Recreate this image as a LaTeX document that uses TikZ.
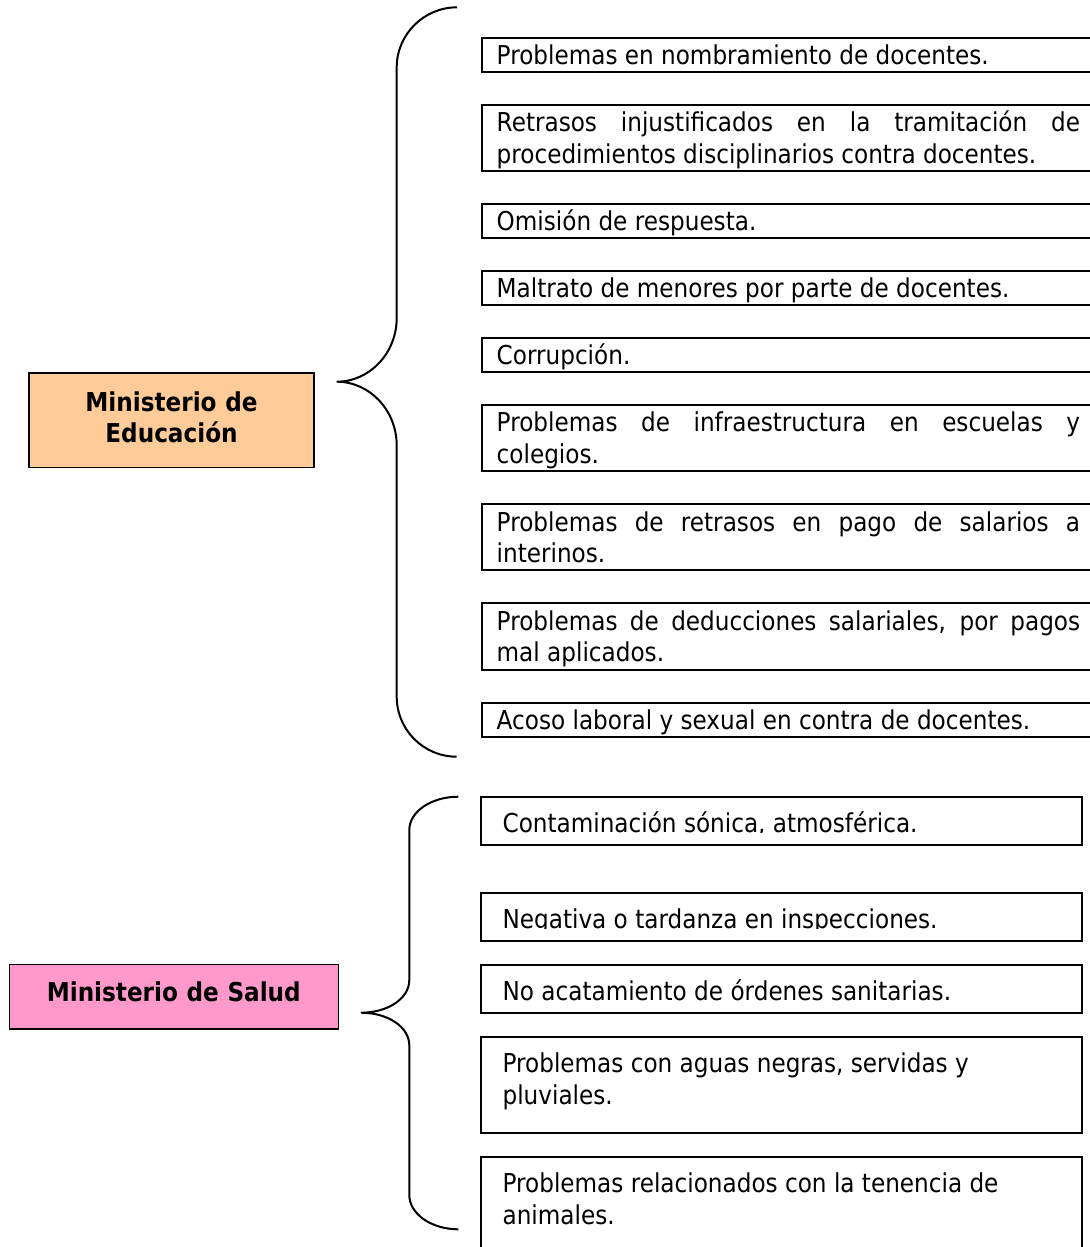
\documentclass[tikz,border=0pt]{standalone}
\usepackage{fontspec}
\setmainfont{DejaVu Sans}[FakeStretch=0.89]
\usetikzlibrary{positioning}
\definecolor{eduorange}{HTML}{FFCC99}
\definecolor{saludpink}{HTML}{FF99CC}
\hyphenpenalty=10000

\begin{document}
\begin{tikzpicture}[x=0.5pt, y=-0.5pt,
  every node/.style={font=\fontsize{13pt}{15.75pt}\selectfont},
  titlebox/.style={draw, line width=0.8pt, inner sep=0pt, outer sep=0pt, align=center,
    font=\fontsize{13pt}{15.5pt}\selectfont\bfseries},
  edubox/.style={draw, line width=1pt, inner xsep=7.5pt, inner ysep=1.5pt, outer sep=0pt,
    anchor=north west, text width=291.7pt, align=justify, text height=12pt, text depth=2pt},
  edutwo/.style={edubox, text depth=18.1pt},
  saludbox/.style={draw, line width=1pt, inner xsep=10.8pt, inner ysep=0pt, outer sep=0pt,
    anchor=north west, text width=278.75pt, align=flush left, text height=17.75pt, text depth=6.4pt},
  saludtwo/.style={saludbox, text depth=30.25pt},
  brace/.style={line width=1pt}]
\useasboundingbox (0,0) rectangle (1090,1247);
\clip (0,0) rectangle (1090,1247);

\node[titlebox, fill=eduorange, text width=142.5pt, text height=19.5pt, text depth=27.8pt] (edu) at (171.5,420) {Ministerio de\\Educación};
\node[titlebox, fill=saludpink, text width=164.5pt, text height=18.7pt, text depth=13.65pt] (salud) at (173.8,996.7) {Ministerio de Salud};

\draw[brace] (457,7.3) .. controls (424,7.3) and (396.7,34.4) .. (396.7,67.3) -- (396.7,318) .. controls (396.7,353) and (369.8,381.7) .. (336.7,381.7) .. controls (369.8,381.7) and (396.7,410.4) .. (396.7,445.4) -- (396.7,696.7) .. controls (396.7,729.8) and (423.6,756.7) .. (456.7,756.7);
\draw[brace] (458.3,796.7) .. controls (431.3,796.7) and (409.3,811.6) .. (409.3,830) -- (409.3,980) .. controls (409.3,998.4) and (388,1012.7) .. (361,1012.7) .. controls (388,1012.7) and (409.3,1027) .. (409.3,1045.4) -- (409.3,1195) .. controls (409.3,1213.8) and (431.3,1229.3) .. (458.3,1229.3);

\node[edubox] (e1) at (481.7,37.7) {Problemas en nombramiento de docentes.};
\node[edutwo, below=16.5pt of e1.south west, anchor=north west] (e2) {Retrasos injustificados en la tramitación de\linebreak procedimientos disciplinarios contra docentes.};
\node[edubox, below=16.5pt of e2.south west, anchor=north west] (e3) {Omisión de respuesta.};
\node[edubox, below=16.5pt of e3.south west, anchor=north west] (e4) {Maltrato de menores por parte de docentes.};
\node[edubox, below=16.5pt of e4.south west, anchor=north west] (e5) {Corrupción.};
\node[edutwo, below=16.5pt of e5.south west, anchor=north west] (e6) {Problemas de infraestructura en escuelas y\linebreak colegios.};
\node[edutwo, below=16.5pt of e6.south west, anchor=north west] (e7) {Problemas de retrasos en pago de salarios a\linebreak interinos.};
\node[edutwo, below=16.5pt of e7.south west, anchor=north west] (e8) {Problemas de deducciones salariales, por pagos\linebreak mal aplicados.};
\node[edubox, below=16.5pt of e8.south west, anchor=north west] (e9) {Acoso laboral y sexual en contra de docentes.};

\node[saludbox] (s1) at (481,796.7) {Contaminación sónica, atmosférica.};
\node[saludbox, below=23.85pt of s1.south west, anchor=north west] (s2) {Negativa o tardanza en inspecciones.};
\node[saludbox, below=12pt of s2.south west, anchor=north west] (s3) {No acatamiento de órdenes sanitarias.};
\node[saludtwo, below=12pt of s3.south west, anchor=north west] (s4) {Problemas con aguas negras, servidas y\\pluviales.};
\node[saludtwo, below=12pt of s4.south west, anchor=north west] (s5) {Problemas relacionados con la tenencia de\\animales.};
\fill[white] ([xshift=1pt,yshift=-0.4pt]s1.base west) rectangle ([xshift=-1pt,yshift=0.8pt]s1.south east);
\fill[white] ([xshift=1pt,yshift=-0.4pt]s2.base west) rectangle ([xshift=-1pt,yshift=0.8pt]s2.south east);
\end{tikzpicture}
\end{document}
